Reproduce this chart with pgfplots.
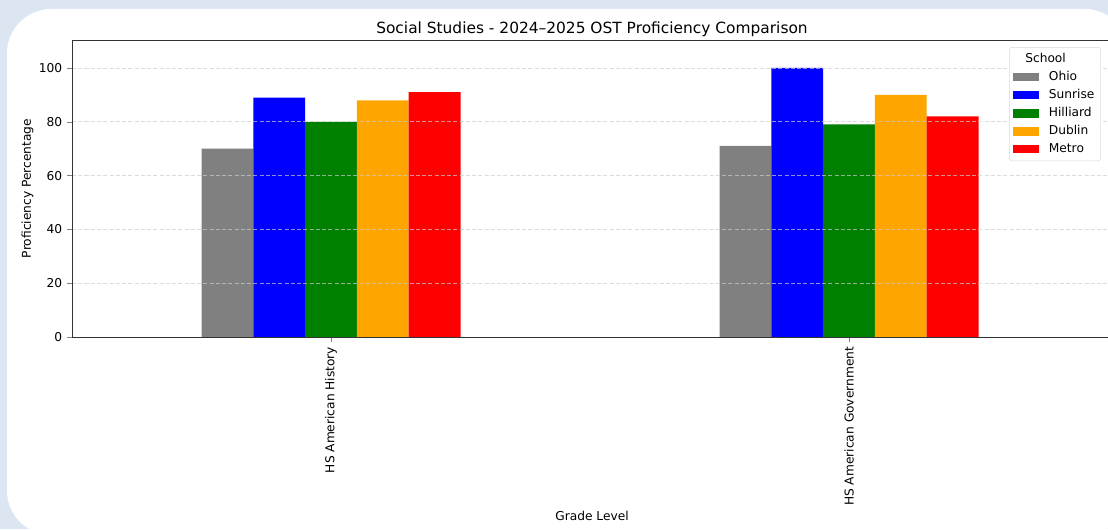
\documentclass[border=0pt]{standalone}
\usepackage{pgfplots}
\pgfplotsset{compat=1.18}
\usepackage{fontspec}
\setmainfont{DejaVu Sans}

\definecolor{bgblue}{HTML}{DCE6F2}
\definecolor{cOhio}{HTML}{808080}
\definecolor{cSunrise}{HTML}{0000FF}
\definecolor{cHilliard}{HTML}{008000}
\definecolor{cDublin}{HTML}{FFA500}
\definecolor{cMetro}{HTML}{FF0000}

\begin{document}
\begin{tikzpicture}
% picture is 1108x529 px, 1px = 0.72pt
\useasboundingbox (0,0) rectangle (797.76pt,380.88pt);
\clip (0,0) rectangle (797.76pt,380.88pt);
\fill[bgblue] (0,0) rectangle (797.76pt,380.88pt);
\fill[white, rounded corners=32pt] (5.04pt,-4.3pt) rectangle (812.9pt,374.4pt);

\begin{axis}[
    at={(51.84pt,138.24pt)}, anchor=south west,
    scale only axis,
    width=748.8pt, height=213.84pt,
    xmin=-0.5, xmax=1.5077,
    ymin=0, ymax=110.4,
    font=\fontsize{8.8}{10.5}\selectfont,
    title={Social Studies - 2024–2025 OST Proficiency Comparison},
    title style={font=\fontsize{11.1}{13}\selectfont, yshift=-7.5pt},
    xlabel={Grade Level},
    xlabel style={yshift=3pt},
    ylabel={Proficiency Percentage},
    ylabel style={yshift=-3pt},
    xtick={0,1},
    xticklabels={HS American History, HS American Government},
    xticklabel style={rotate=90, anchor=east},
    ytick={0,20,40,60,80,100},
    /pgf/number format/assume math mode=true,
    tick align=outside,
    tick pos=left,
    major tick length=3.5pt,
    ymajorgrids,
    grid style={gray!40, opacity=0.7, dash pattern=on 3pt off 1.5pt, line width=0.6pt},
    axis line style={black!80, line width=0.7pt},
    axis on top,
    ybar, bar width=0.1,
    legend style={at={(0.9894,0.9764)}, anchor=north east,
        draw=black!15, rounded corners=2pt, fill=white,
        font=\fontsize{8.8}{10.5}\selectfont,
        row sep=0.8pt, inner sep=2.5pt},
    legend cell align=left,
    legend image code/.code={\fill[#1, sharp corners] (0pt,-3pt) rectangle (19pt,3pt);},
]
\addlegendimage{empty legend}
\addlegendentry{\hspace{-12pt}School}
\addplot[fill=cOhio, draw=none, bar shift=-0.2] coordinates {(0,70) (1,71)};
\addlegendentry{\hspace{5pt}Ohio}
\addplot[fill=cSunrise, draw=none, bar shift=-0.1] coordinates {(0,89) (1,100)};
\addlegendentry{\hspace{5pt}Sunrise}
\addplot[fill=cHilliard, draw=none, bar shift=0] coordinates {(0,80) (1,79)};
\addlegendentry{\hspace{5pt}Hilliard}
\addplot[fill=cDublin, draw=none, bar shift=0.1] coordinates {(0,88) (1,90)};
\addlegendentry{\hspace{5pt}Dublin}
\addplot[fill=cMetro, draw=none, bar shift=0.2] coordinates {(0,91) (1,82)};
\addlegendentry{\hspace{5pt}Metro}
\end{axis}
\end{tikzpicture}
\end{document}
